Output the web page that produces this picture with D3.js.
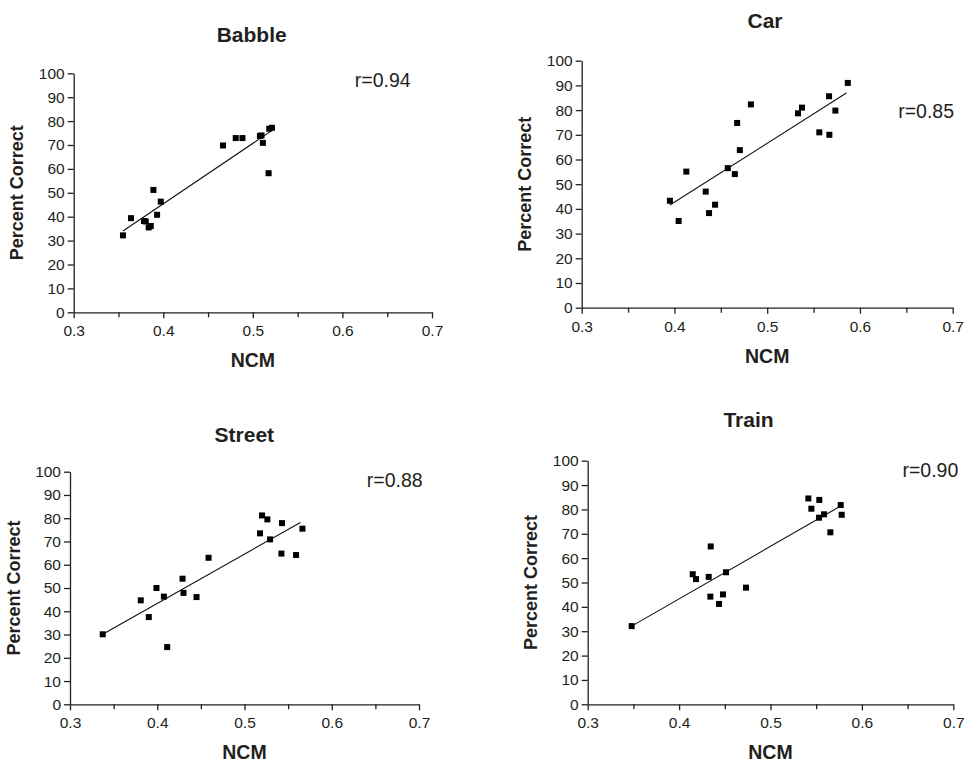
<!DOCTYPE html>
<html><head><meta charset="utf-8">
<script src="https://cdn.jsdelivr.net/npm/d3@7"></script>
<style>
body{margin:0;background:#fff;}
svg{display:block;font-family:"Liberation Sans",Arial,sans-serif;}
</style>
</head><body>
<svg id="chart" width="964" height="762"></svg>
<script>
// ---------- DATA ----------
const panelNames = ["Babble", "Car", "Street", "Train"];
const rLabels = ["r=0.94", "r=0.85", "r=0.88", "r=0.90"];
const xTickValues = [0.3, 0.4, 0.5, 0.6, 0.7];
const xMinorTickValues = [0.35, 0.45, 0.55, 0.65];
const yTickValues = [0, 10, 20, 30, 40, 50, 60, 70, 80, 90, 100];
const xAxisTitle = "NCM";
const yAxisTitle = "Percent Correct";

const babbleNCM = [0.355, 0.364, 0.3785, 0.3804, 0.3837, 0.386, 0.389, 0.3931, 0.3972, 0.4667, 0.4809, 0.4884, 0.5079, 0.5097, 0.5112, 0.5176, 0.5183, 0.5213];
const babblePC  = [32.2, 39.4, 38.2, 38.0, 35.5, 36.1, 51.2, 40.8, 46.3, 69.8, 72.9, 72.9, 73.8, 74.0, 70.9, 58.2, 76.8, 77.2];
const babbleFitNCM = [0.355, 0.5206];
const babbleFitPC  = [34.0, 75.9];

const carNCM = [0.3951, 0.4045, 0.4128, 0.4337, 0.4373, 0.4438, 0.4575, 0.4651, 0.4676, 0.4705, 0.4824, 0.5332, 0.5375, 0.5562, 0.5667, 0.567, 0.5735, 0.5869];
const carPC  = [43.3, 35.1, 55.1, 47.0, 38.3, 41.7, 56.5, 54.1, 74.8, 63.8, 82.3, 78.7, 81.0, 71.0, 85.6, 70.0, 79.8, 91.0];
const carFitNCM = [0.3951, 0.5854];
const carFitPC  = [41.6, 86.9];

const streetNCM = [0.3375, 0.3811, 0.3903, 0.3991, 0.4076, 0.4114, 0.429, 0.4301, 0.445, 0.4588, 0.5178, 0.5201, 0.5262, 0.5293, 0.5423, 0.543, 0.5591, 0.5664];
const streetPC  = [30.1, 44.7, 37.5, 50.0, 46.3, 24.6, 54.0, 47.9, 46.1, 63.0, 73.5, 81.2, 79.5, 70.9, 64.8, 77.9, 64.2, 75.5];
const streetFitNCM = [0.3375, 0.5641];
const streetFitPC  = [30.1, 78.2];

const trainNCM = [0.3481, 0.4149, 0.4185, 0.4324, 0.4342, 0.4346, 0.4437, 0.448, 0.4513, 0.4732, 0.5414, 0.5447, 0.5534, 0.5531, 0.5586, 0.5655, 0.5768, 0.5779];
const trainPC  = [32.1, 53.4, 51.4, 52.3, 44.2, 64.8, 41.2, 45.1, 54.2, 47.9, 84.5, 80.3, 83.9, 76.6, 78.0, 70.6, 81.8, 77.8];
const trainFitNCM = [0.3481, 0.5768];
const trainFitPC  = [32.1, 81.4];

// ---------- LAYOUT (positions only) ----------
const layout = [
  {x0: 73.7, x1: 432,   yTop: 73.3,  yBot: 312.3, titleX: 251.7, titleY: 42,    rx: 410.7, ry: 87.3},
  {x0: 581.7, x1: 952.7, yTop: 60.7, yBot: 307.7, titleX: 765,   titleY: 28.3,  rx: 954,   ry: 118.3},
  {x0: 70,   x1: 419,   yTop: 471.7, yBot: 704.3, titleX: 244.3, titleY: 441.7, rx: 422.7, ry: 487.3},
  {x0: 587.7, x1: 953.3, yTop: 460.7, yBot: 704.3, titleX: 748.5, titleY: 427,  rx: 958.3, ry: 476.7}
];

const panelData = [
  {ncm: babbleNCM, pc: babblePC, fitNCM: babbleFitNCM, fitPC: babbleFitPC},
  {ncm: carNCM, pc: carPC, fitNCM: carFitNCM, fitPC: carFitPC},
  {ncm: streetNCM, pc: streetPC, fitNCM: streetFitNCM, fitPC: streetFitPC},
  {ncm: trainNCM, pc: trainPC, fitNCM: trainFitNCM, fitPC: trainFitPC}
];

const ink = "#231f20";
const svg = d3.select("#chart");

panelNames.forEach((name, i) => {
  const L = layout[i], D = panelData[i];
  const x = d3.scaleLinear().domain([0.3, 0.7]).range([L.x0, L.x1]);
  const y = d3.scaleLinear().domain([0, 100]).range([L.yBot, L.yTop]);
  const g = svg.append("g");

  // y axis
  const ya = g.append("g").attr("transform", `translate(${L.x0},0)`)
    .call(d3.axisLeft(y).tickValues(yTickValues).tickSize(6).tickPadding(3).tickSizeOuter(0));
  // x axis
  const xa = g.append("g").attr("transform", `translate(0,${L.yBot})`)
    .call(d3.axisBottom(x).tickValues(xTickValues).tickFormat(d3.format(".1f")).tickSize(6).tickPadding(7).tickSizeOuter(0));
  const xm = g.append("g").attr("transform", `translate(0,${L.yBot})`)
    .call(d3.axisBottom(x).tickValues(xMinorTickValues).tickFormat("").tickSize(5).tickSizeOuter(0));
  xm.select(".domain").remove();

  [ya, xa, xm].forEach(a => {
    a.selectAll("path,line").attr("stroke", ink).attr("stroke-width", 1.3);
    a.selectAll("text").attr("fill", ink).style("font-size", "15.5px")
      .style("font-family", '"Liberation Sans", Arial, sans-serif');
  });

  // fit line
  const pts = D.fitNCM.map((v, k) => [v, D.fitPC[k]]);
  g.append("path").datum(pts)
    .attr("d", d3.line().x(d => x(d[0])).y(d => y(d[1])))
    .attr("fill", "none").attr("stroke", "#111").attr("stroke-width", 1.1);

  // points
  const s = 6;
  g.selectAll("rect.pt").data(D.ncm.map((v, k) => [v, D.pc[k]])).enter()
    .append("rect").attr("class", "pt")
    .attr("x", d => x(d[0]) - s / 2).attr("y", d => y(d[1]) - s / 2)
    .attr("width", s).attr("height", s).attr("fill", "#000");

  // title
  g.append("text").attr("x", L.titleX).attr("y", L.titleY)
    .attr("text-anchor", "middle").attr("fill", ink)
    .style("font-size", "21px").style("font-weight", "bold").text(name);

  // r label
  g.append("text").attr("x", L.rx).attr("y", L.ry)
    .attr("text-anchor", "end").attr("fill", ink)
    .style("font-size", "19.5px").text(rLabels[i]);

  // x axis title
  g.append("text").attr("x", (L.x0 + L.x1) / 2).attr("y", L.yBot + 55)
    .attr("text-anchor", "middle").attr("fill", ink)
    .style("font-size", "19.5px").style("font-weight", "bold").text(xAxisTitle);

  // y axis title
  const cy = (L.yTop + L.yBot) / 2, cx = L.x0 - 50.5;
  g.append("text").attr("transform", `translate(${cx},${cy}) rotate(-90)`)
    .attr("text-anchor", "middle").attr("fill", ink)
    .style("font-size", "18px").style("font-weight", "bold").text(yAxisTitle);
});
</script>
</body></html>
